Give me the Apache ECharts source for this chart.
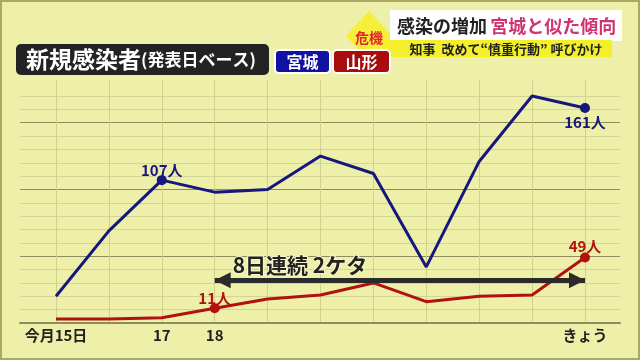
<!DOCTYPE html>
<html>
<head>
<meta charset="utf-8">
<style>
html,body{margin:0;padding:0;background:#eef0a9;}
#chart{width:640px;height:360px;}
</style>
<script src="https://cdn.jsdelivr.net/npm/echarts@6/dist/echarts.min.js"></script>
</head>
<body>
<div id="chart"></div>
<script>
// ---- data ----
const dates = ['15','16','17','18','19','20','21','22','23','24','25'];
const tickLabels = ['今月15日','','17','18','','','','','','','きょう'];
const miyagi = [20,69,107,98,100,125,112,42,121,170,161];
const yamagata = [3,3,4,11,18,21,30,16,20,21,49];
const miyagiMarked = [2,10];
const yamagataMarked = [3,10];
const streakStartIdx = 3;
const streakEndIdx = 10;
const streakLevel = 32;
const streakText = '8日連続 2ケタ';

const FONT = '"Noto Sans CJK JP", "Noto Sans", sans-serif';
const BLUE = '#16167e';
const RED = '#b0120f';
const MAJOR = '#8c8c5c';
const MINOR = '#d3d596';

function buildItems(values, marked, color, posFn, distFn) {
  return values.map((v, i) => {
    if (marked.indexOf(i) < 0) return { value: v, symbolSize: 0 };
    return {
      value: v,
      symbolSize: 10,
      label: {
        show: true,
        position: posFn(i),
        distance: distFn(i),
        formatter: v + '人',
        color: color,
        fontSize: 15,
        fontWeight: 'bold',
        fontFamily: FONT
      }
    };
  });
}

const chart = echarts.init(document.getElementById('chart'), null, {renderer: 'canvas'});
const lastIdx = miyagi.length - 1;

const option = {
  backgroundColor: '#eef0a9',
  animation: false,
  grid: [
    {left: 20, right: 20, top: 96, bottom: 37},
    {left: 56, right: 55, top: 80, bottom: 37}
  ],
  xAxis: [
    {
      gridIndex: 0, type: 'value', min: 0, max: 1,
      axisLine: {show: true, lineStyle: {color: MAJOR, width: 2}},
      axisTick: {show: false}, axisLabel: {show: false}, splitLine: {show: false}
    },
    {
      gridIndex: 1, type: 'category', data: dates, boundaryGap: false,
      axisLine: {show: false}, axisTick: {show: false},
      axisLabel: {
        interval: 0, margin: 5,
        formatter: (v, i) => tickLabels[i],
        color: '#222', fontSize: 15, fontWeight: 'bold', fontFamily: FONT
      },
      splitLine: {show: true, interval: 0, lineStyle: {color: '#cfd18e', width: 1}}
    }
  ],
  yAxis: [
    {
      gridIndex: 0, type: 'value', min: 0, max: 170, interval: 10,
      axisLine: {show: false}, axisTick: {show: false}, axisLabel: {show: false},
      splitLine: {show: true, lineStyle: {color: [MAJOR, MINOR, MINOR, MINOR, MINOR], width: 1}}
    },
    {
      gridIndex: 1, type: 'value', min: 0, max: 182,
      show: false, splitLine: {show: false}
    }
  ],
  series: [
    {
      name: '山形', type: 'line', xAxisIndex: 1, yAxisIndex: 1,
      data: buildItems(yamagata, yamagataMarked, RED, () => 'top', (i) => i === lastIdx ? -1 : -2),
      symbol: 'circle', showSymbol: true, showAllSymbol: true,
      lineStyle: {color: RED, width: 3},
      itemStyle: {color: RED},
      z: 3
    },
    {
      name: '宮城', type: 'line', xAxisIndex: 1, yAxisIndex: 1,
      data: buildItems(miyagi, miyagiMarked, BLUE,
        (i) => i === lastIdx ? 'bottom' : 'top',
        (i) => i === lastIdx ? 2 : -3),
      symbol: 'circle', showSymbol: true, showAllSymbol: true,
      lineStyle: {color: BLUE, width: 3},
      itemStyle: {color: BLUE},
      z: 3
    },
    {
      name: 'streak', type: 'line', xAxisIndex: 1, yAxisIndex: 1,
      data: [], z: 5,
      markLine: {
        silent: true,
        symbol: ['triangle', 'triangle'],
        symbolSize: 16,
        symbolOffset: [[0, 8], [0, 8]],
        lineStyle: {color: '#2a2a2a', width: 5, type: 'solid'},
        label: {
          show: true, position: 'insideStartTop', distance: [18, 5],
          formatter: streakText,
          color: '#222', fontSize: 21, fontWeight: 'bold', fontFamily: FONT,
          textBorderColor: '#f6f6cc', textBorderWidth: 2
        },
        data: [[
          {coord: [dates[streakStartIdx], streakLevel]},
          {coord: [dates[streakEndIdx], streakLevel]}
        ]]
      }
    }
  ],
  graphic: [
    {type: 'rect', shape: {x: 1, y: 1, width: 638, height: 358}, style: {fill: 'none', stroke: '#a9a964', lineWidth: 2}, z: 10},
    // title box
    {type: 'rect', shape: {x: 16, y: 44, width: 253, height: 31, r: 5}, style: {fill: '#232323'}, z: 10},
    {type: 'text', x: 26, y: 59.5, z: 11,
      style: {
        text: '{a|新規感染者}{b|(発表日ベース)}',
        verticalAlign: 'middle',
        rich: {
          a: {fill: '#fff', fontSize: 23, fontWeight: 'bold', fontFamily: FONT},
          b: {fill: '#fff', fontSize: 17, fontWeight: 'bold', fontFamily: FONT}
        }
      }
    },
    // diamond
    {type: 'polygon', shape: {points: [[369, 11], [392, 36], [369, 61], [346, 36]]}, style: {fill: '#f7ee3a'}, z: 10},
    {type: 'text', x: 369, y: 38, z: 11,
      style: {text: '危機', fill: '#e0262a', fontSize: 14, fontWeight: 'bold', fontFamily: FONT, align: 'center', verticalAlign: 'middle'}},
    // badges
    {type: 'rect', shape: {x: 275, y: 50, width: 55, height: 23, r: 4}, style: {fill: '#1212a2', stroke: '#ffffff', lineWidth: 2}, z: 12},
    {type: 'text', x: 302.5, y: 61.5, z: 13,
      style: {text: '宮城', fill: '#fff', fontSize: 16, fontWeight: 'bold', fontFamily: FONT, align: 'center', verticalAlign: 'middle'}},
    {type: 'rect', shape: {x: 333, y: 50, width: 57, height: 23, r: 4}, style: {fill: '#a80c0c', stroke: '#ffffff', lineWidth: 2}, z: 12},
    {type: 'text', x: 361.5, y: 61.5, z: 13,
      style: {text: '山形', fill: '#fff', fontSize: 16, fontWeight: 'bold', fontFamily: FONT, align: 'center', verticalAlign: 'middle'}},
    // header
    {type: 'rect', shape: {x: 390, y: 10, width: 232, height: 31}, style: {fill: '#ffffff'}, z: 10},
    {type: 'text', x: 397, y: 26, z: 11,
      style: {
        text: '{a|感染の増加} {b|宮城と似た傾向}',
        verticalAlign: 'middle',
        rich: {
          a: {fill: '#222', fontSize: 18, fontWeight: 'bold', fontFamily: FONT},
          b: {fill: '#d03272', fontSize: 18, fontWeight: 'bold', fontFamily: FONT}
        }
      }
    },
    {type: 'rect', shape: {x: 382, y: 40, width: 230, height: 17}, style: {fill: '#f3ef2a'}, z: 10},
    {type: 'text', x: 506, y: 49, z: 11,
      style: {text: '知事  改めて“慎重行動” 呼びかけ', fill: '#222', fontSize: 13, fontWeight: 'bold', fontFamily: FONT, align: 'center', verticalAlign: 'middle'}}
  ]
};
chart.setOption(option);
</script>
</body>
</html>
